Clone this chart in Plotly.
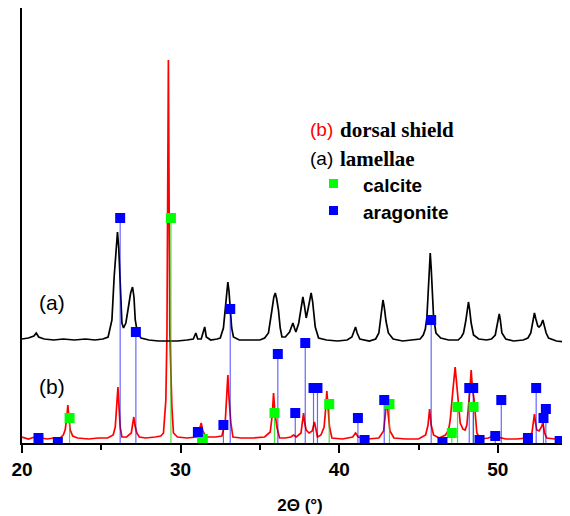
import plotly.graph_objects as go

# ---------------- data (2θ in degrees, intensity in arbitrary units) ----------------
red_x = [20.0, 20.4, 20.8, 21.2, 21.6, 22.0, 22.4, 22.6, 22.72, 22.82, 22.89, 22.96, 23.04, 23.2, 23.5, 24.2, 24.8,
         25.4, 25.75, 25.88, 25.98, 26.05, 26.12, 26.19, 26.3, 26.6, 26.89, 26.98, 27.05, 27.13, 27.24, 27.4,
         27.8, 28.4, 28.75, 28.92, 29.07, 29.14, 29.23, 29.32, 29.4, 29.45, 29.55, 29.8, 30.4, 31.0, 31.2, 31.3,
         31.4, 31.6, 32.2, 32.6, 32.81, 32.92, 32.98, 33.05, 33.17, 33.3, 33.8, 34.6, 35.3, 35.65, 35.78, 35.86,
         35.95, 36.07, 36.24, 36.6, 36.95, 37.12, 37.3, 37.59, 37.68, 37.75, 37.82, 37.92, 38.1, 38.3, 38.44,
         38.52, 38.63, 38.85, 39.05, 39.15, 39.22, 39.3, 39.39, 39.54, 40.2, 40.85, 41.03, 41.2, 41.8, 42.5,
         42.8, 42.92, 43.0, 43.08, 43.2, 43.45, 44.2, 45.0, 45.45, 45.6, 45.7, 45.8, 45.95, 46.3, 46.7, 46.9,
         47.0, 47.17, 47.31, 47.46, 47.63, 47.8, 47.94, 48.05, 48.15, 48.25, 48.32, 48.4, 48.51, 48.6, 48.68,
         48.89, 49.4, 49.7, 49.84, 50.0, 50.5, 51.2, 51.8, 52.15, 52.24, 52.31, 52.38, 52.46, 52.6, 52.75,
         52.84, 52.95, 53.09, 53.6, 54.2, 55.0]
red_y = [6, 4, 6, 5, 4, 5, 5, 8, 13, 25, 38, 25, 13, 7, 5, 4, 5,
         5, 8, 16, 35, 56, 35, 16, 6, 6, 10, 18, 26, 17, 10, 6,
         5, 6, 7, 10, 43, 110, 383, 110, 60, 36, 10, 6, 5, 6, 14, 20,
         12, 6, 6, 7, 20, 45, 68, 45, 20, 6, 5, 5, 6, 11, 28, 50,
         30, 16, 5, 5, 6, 8, 6, 10, 20, 30, 20, 13, 10, 12, 21,
         14, 6, 8, 16, 35, 52, 35, 16, 5, 4, 6, 10, 6, 4, 5,
         12, 30, 46, 30, 12, 5, 4, 4, 8, 18, 34, 18, 8, 5, 8, 13,
         23, 53, 76, 50, 20, 14, 13, 18, 33, 55, 73, 55, 43, 25, 10,
         4, 5, 7, 11, 6, 4, 4, 5, 10, 20, 29, 20, 13, 12, 16,
         20, 10, 5, 4, 5, 4]

black_x = [20.0, 20.4, 20.75, 20.9, 21.05, 21.4, 22.0, 22.6, 23.3, 24.0, 24.6, 25.1, 25.43, 25.67, 25.81, 25.92,
           26.02, 26.1, 26.19, 26.3, 26.4, 26.55, 26.71, 26.85, 26.97, 27.06, 27.14, 27.28, 27.5, 28.0, 28.6,
           29.2, 29.8, 30.4, 30.8, 30.96, 31.08, 31.3, 31.45, 31.52, 31.62, 31.9, 32.3, 32.5, 32.7, 32.8, 32.9,
           32.98, 33.05, 33.13, 33.22, 33.33, 33.7, 34.3, 35.0, 35.3, 35.54, 35.76, 35.88, 35.97, 36.06, 36.17,
           36.28, 36.39, 36.6, 36.87, 37.0, 37.08, 37.18, 37.27, 37.45, 37.6, 37.71, 37.8, 37.92, 38.05, 38.16,
           38.23, 38.32, 38.49, 38.7, 39.2, 39.9, 40.5, 40.8, 40.93, 41.03, 41.13, 41.3, 41.9, 42.3, 42.5, 42.62,
           42.7, 42.76, 42.84, 42.95, 43.1, 43.4, 44.0, 44.6, 45.1, 45.3, 45.43, 45.53, 45.62, 45.69, 45.74,
           45.8, 45.87, 45.95, 46.1, 46.4, 46.9, 47.5, 47.7, 47.84, 47.98, 48.08, 48.15, 48.22, 48.32, 48.47,
           48.8, 49.3, 49.6, 49.84, 49.97, 50.04, 50.09, 50.15, 50.26, 50.5, 51.0, 51.6, 51.9, 52.08, 52.2,
           52.31, 52.4, 52.52, 52.6, 52.72, 52.84, 52.93, 53.05, 53.2, 53.7, 54.3, 55.0]
black_y = [104, 105, 107, 110, 106, 104, 103, 104, 103, 104, 103, 104, 106, 123, 166, 195,
           211, 195, 166, 120, 115, 120, 136, 150, 156, 146, 123, 110, 105, 103, 102,
           102, 102, 103, 104, 110, 104, 104, 111, 116, 106, 103, 104, 105, 115, 133, 152,
           161, 152, 133, 115, 106, 103, 103, 103, 105, 110, 133, 146, 150, 144, 133,
           115, 106, 106, 111, 117, 120, 115, 111, 120, 138, 146, 138, 125, 135, 147,
           150, 142, 116, 105, 103, 102, 103, 106, 112, 116, 110, 104, 102, 104, 110, 125,
           138, 143, 136, 122, 110, 104, 102, 103, 104, 108, 114, 126, 150, 180, 190,
           175, 146, 126, 110, 105, 103, 103, 106, 110, 122, 135, 141, 134, 120, 108,
           104, 103, 104, 108, 118, 126, 129, 124, 110, 104, 102, 103, 105, 110, 120,
           130, 124, 117, 116, 118, 123, 118, 110, 105, 102, 101, 100]

aragonite_x = [21.04, 22.26, 26.19, 27.18, 31.09, 32.7, 33.13, 36.13, 37.23, 37.86, 38.38, 38.63, 41.18, 41.6,
               42.84, 45.8, 46.51, 48.2, 48.45, 48.85, 49.84, 50.22, 51.9, 52.42, 52.88, 53.03, 53.9]
aragonite_y = [5, 1, 225, 111, 11, 18, 134, 89, 30, 100, 55, 55, 25, 3,
               43, 123, 1, 55, 55, 3, 7, 43, 5, 55, 25, 34, 2]

calcite_x = [23.0, 29.39, 31.4, 35.92, 39.37, 43.17, 47.1, 47.46, 48.47]
calcite_y = [25, 225, 4, 30, 39, 39, 10, 36, 36]

x_ticks = [20, 30, 40, 50]

# ---------------- figure ----------------
W, H = 570, 516
OFF = 8                      # page offset of the plot div in the browser
ML = 14
PH = 435
MB = H - PH
PW = W - ML
DEG_PX = 15.86               # pixels per degree


def px(x_ref):
    return (x_ref - OFF - ML) / PW


def py(y_ref):
    return (443 - y_ref) / PH


def sticks(xs, ys):
    lx, ly = [], []
    for a, b in zip(xs, ys):
        lx += [a, a, None]
        ly += [0, b, None]
    return lx, ly


fig = go.Figure()
fig.add_trace(go.Scatter(x=red_x, y=red_y, mode="lines", line=dict(color="#ff0000", width=1.7)))
fig.add_trace(go.Scatter(x=black_x, y=black_y, mode="lines", line=dict(color="#000000", width=1.7)))

ax, ay = sticks(aragonite_x, aragonite_y)
cx, cy = sticks(calcite_x, calcite_y)
fig.add_trace(go.Scatter(x=cx, y=cy, mode="lines", line=dict(color="rgba(0,220,0,0.75)", width=1.2)))
fig.add_trace(go.Scatter(x=ax, y=ay, mode="lines", line=dict(color="rgba(0,0,255,0.6)", width=1.2)))
fig.add_trace(go.Scatter(x=calcite_x, y=calcite_y, mode="markers",
                         marker=dict(symbol="square", size=10, color="#00ff00", line=dict(width=0))))
fig.add_trace(go.Scatter(x=aragonite_x, y=aragonite_y, mode="markers",
                         marker=dict(symbol="square", size=10, color="#0000ff", line=dict(width=0))))

ARIAL = "Liberation Sans, Arial, sans-serif"
TIMES = "Liberation Serif, Times New Roman, serif"

annotations = [
    dict(x=px(308), y=py(130), text="(b)", font=dict(family=ARIAL, size=19, color="#ff0000")),
    dict(x=px(338), y=py(130), text="<b>dorsal shield</b>", font=dict(family=TIMES, size=21, color="#000000")),
    dict(x=px(308), y=py(159), text="(a)", font=dict(family=ARIAL, size=19, color="#000000")),
    dict(x=px(338), y=py(159), text="<b>lamellae</b>", font=dict(family=TIMES, size=21, color="#000000")),
    dict(x=px(361), y=py(185), text="<b>calcite</b>", font=dict(family=ARIAL, size=19, color="#000000")),
    dict(x=px(361), y=py(212), text="<b>aragonite</b>", font=dict(family=ARIAL, size=19, color="#000000")),
    dict(x=px(37), y=py(302), text="(a)", font=dict(family=ARIAL, size=21, color="#000000")),
    dict(x=px(37), y=py(386), text="(b)", font=dict(family=ARIAL, size=21, color="#000000")),
]
for a in annotations:
    a.update(xref="paper", yref="paper", xanchor="left", yanchor="middle", showarrow=False)

shapes = [
    dict(type="rect", xref="paper", yref="paper", x0=px(329), x1=px(338), y0=py(188), y1=py(179),
         fillcolor="#00ff00", line=dict(width=0)),
    dict(type="rect", xref="paper", yref="paper", x0=px(329), x1=px(338), y0=py(215), y1=py(206),
         fillcolor="#0000ff", line=dict(width=0)),
]

fig.update_layout(
    width=W, height=H,
    margin=dict(l=ML, r=0, t=0, b=MB),
    paper_bgcolor="white", plot_bgcolor="white",
    showlegend=False,
    annotations=annotations,
    shapes=shapes,
    xaxis=dict(
        range=[20, 20 + PW / DEG_PX], showline=True, linecolor="black", linewidth=1.5,
        ticks="outside", ticklen=8, tickwidth=1.5, tickcolor="black",
        tickvals=x_ticks, ticktext=[str(t) for t in x_ticks],
        tickfont=dict(family=ARIAL, size=19, color="black", weight="bold"),
        minor=dict(dtick=5, tick0=20, ticks="outside", ticklen=5, tickwidth=1.5, tickcolor="black", showgrid=False),
        showgrid=False, zeroline=False,
        title=dict(text="2\u0398 (\u00b0)", font=dict(family=ARIAL, size=17, color="black", weight="bold"),
                   standoff=21),
    ),
    yaxis=dict(
        range=[0, PH], showline=True, linecolor="black", linewidth=1.5,
        showticklabels=False, ticks="", showgrid=False, zeroline=False,
    ),
)

fig.write_html("out.html")
